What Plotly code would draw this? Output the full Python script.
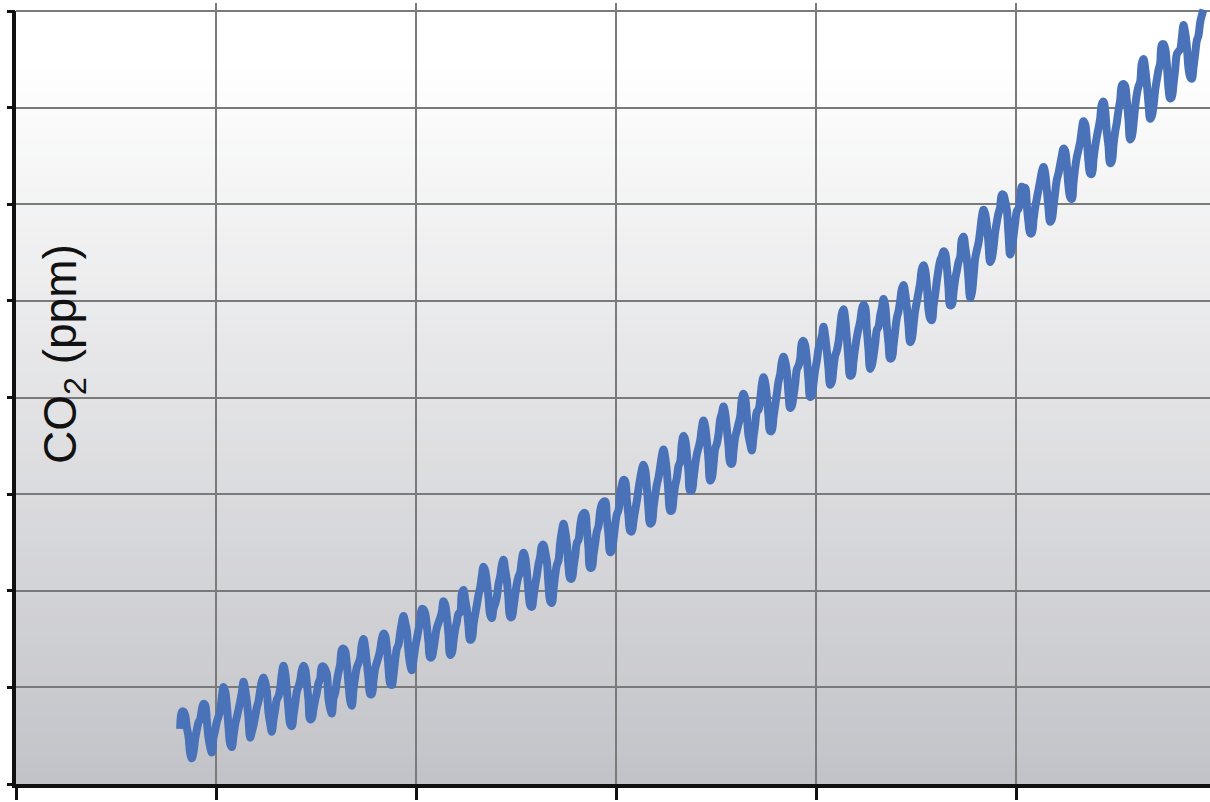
import plotly.graph_objects as go

# Monthly mean CO2 at Mauna Loa (ppm), March 1958 .. May 2009
start_year = 1958
start_month = 3
co2_ppm = [
    315.71, 317.45, 317.50, 317.10, 315.86, 314.93, 313.20, 312.66, 313.33, 314.67,
    315.62, 316.38, 316.71, 317.72, 318.29, 318.15, 316.54, 314.80, 313.84, 313.26, 314.80, 315.58,
    316.43, 316.97, 317.58, 319.02, 320.03, 319.59, 318.18, 315.91, 314.16, 313.83, 315.00, 316.19,
    316.93, 317.70, 318.54, 319.48, 320.58, 319.77, 318.57, 316.79, 314.80, 315.38, 316.10, 317.01,
    317.94, 318.56, 319.68, 320.63, 321.01, 320.55, 319.58, 317.40, 316.26, 315.42, 316.69, 317.69,
    318.74, 319.08, 319.86, 321.39, 322.25, 321.47, 319.74, 317.77, 316.21, 315.99, 317.12, 318.31,
    319.57, 320.07, 320.73, 321.77, 322.25, 321.89, 320.44, 318.70, 316.70, 316.79, 317.79, 318.71,
    319.44, 320.44, 320.89, 322.13, 322.16, 321.87, 321.39, 318.81, 317.81, 317.30, 318.87, 319.42,
    320.62, 321.59, 322.39, 323.87, 324.01, 323.75, 322.39, 320.37, 318.64, 318.10, 319.79, 321.08,
    322.07, 322.50, 323.04, 324.42, 325.00, 324.09, 322.55, 320.92, 319.31, 319.31, 320.72, 321.96,
    322.57, 323.15, 323.89, 325.02, 325.57, 325.36, 324.14, 322.03, 320.41, 320.25, 321.31, 322.84,
    324.00, 324.42, 325.64, 326.66, 327.38, 326.70, 325.89, 323.67, 322.38, 321.78, 322.85, 324.11,
    325.03, 325.99, 326.87, 328.13, 328.07, 327.66, 326.35, 324.69, 323.10, 323.16, 323.98, 325.13,
    326.17, 326.68, 327.18, 327.78, 328.92, 328.57, 327.34, 325.46, 323.36, 323.57, 324.80, 326.01,
    326.77, 327.63, 327.75, 329.72, 330.07, 329.09, 328.05, 326.32, 324.93, 325.06, 326.50, 327.55,
    328.54, 329.56, 330.30, 331.50, 332.48, 332.07, 330.87, 329.31, 327.51, 327.18, 328.16, 328.64,
    329.35, 330.71, 331.48, 332.65, 333.20, 332.16, 331.07, 329.12, 327.32, 327.28, 328.30, 329.58,
    330.73, 331.46, 331.90, 333.17, 333.94, 333.45, 331.98, 329.95, 328.50, 328.34, 329.37, 330.58,
    331.59, 332.75, 333.52, 334.64, 334.77, 334.00, 333.06, 330.68, 328.95, 328.75, 330.15, 331.62,
    332.66, 333.13, 334.95, 336.13, 336.93, 336.17, 334.88, 332.56, 331.29, 331.27, 332.41, 333.60,
    334.95, 335.25, 336.66, 337.69, 338.03, 338.01, 336.41, 334.41, 332.37, 332.41, 333.75, 334.90,
    336.14, 336.69, 338.27, 338.96, 339.21, 339.26, 337.54, 335.75, 333.98, 334.19, 335.31, 336.81,
    337.90, 338.34, 340.01, 340.93, 341.48, 341.33, 339.40, 337.70, 336.19, 336.15, 337.27, 338.32,
    339.29, 340.55, 341.61, 342.53, 343.03, 342.54, 340.78, 338.44, 336.95, 337.08, 338.58, 339.88,
    340.96, 341.73, 342.81, 343.97, 344.63, 343.79, 342.32, 340.09, 338.28, 338.29, 339.60, 340.90,
    341.68, 342.90, 343.33, 345.25, 346.03, 345.63, 344.19, 342.27, 340.35, 340.38, 341.59, 343.05,
    344.10, 344.79, 345.52, 346.84, 347.63, 346.97, 345.53, 343.55, 341.40, 341.67, 343.10, 344.70,
    345.21, 346.16, 347.74, 348.34, 349.06, 348.38, 346.72, 345.02, 343.27, 343.13, 344.49, 345.88,
    346.56, 347.28, 348.01, 349.77, 350.38, 349.93, 348.16, 346.08, 345.22, 344.51, 345.93, 347.21,
    348.52, 348.73, 349.73, 351.31, 352.09, 351.53, 350.11, 348.08, 346.52, 346.59, 347.96, 349.16,
    350.39, 351.64, 352.40, 353.69, 354.21, 353.72, 352.69, 350.40, 348.92, 349.13, 350.20, 351.41,
    352.91, 353.27, 353.96, 355.64, 355.86, 355.37, 353.99, 351.81, 350.05, 350.25, 351.49, 352.85,
    353.80, 355.04, 355.73, 356.32, 357.32, 356.34, 354.84, 353.01, 351.31, 351.62, 353.07, 354.33,
    354.84, 355.73, 357.23, 358.66, 359.13, 358.13, 356.19, 353.85, 352.25, 352.35, 353.81, 355.12,
    356.25, 357.11, 357.86, 359.09, 359.59, 359.33, 357.01, 354.94, 352.96, 353.32, 354.32, 355.57,
    357.00, 357.31, 358.47, 359.27, 360.19, 359.52, 357.33, 355.64, 354.03, 354.12, 355.41, 356.91,
    358.24, 358.92, 359.99, 361.23, 361.65, 360.81, 359.38, 357.46, 355.73, 356.08, 357.53, 358.98,
    359.92, 360.86, 361.83, 363.30, 363.69, 363.19, 361.64, 359.12, 358.17, 357.99, 359.45, 360.68,
    362.07, 363.24, 364.17, 364.57, 365.13, 364.92, 363.55, 361.38, 359.54, 359.58, 360.89, 362.24,
    363.09, 364.03, 364.51, 366.35, 366.64, 365.59, 364.31, 362.25, 360.29, 360.82, 362.49, 364.38,
    365.26, 365.98, 367.24, 368.66, 369.42, 368.99, 367.82, 365.95, 364.02, 364.40, 365.52, 367.13,
    368.18, 369.07, 369.68, 370.99, 370.96, 370.30, 369.45, 366.90, 364.81, 365.37, 366.72, 368.10,
    369.29, 369.54, 370.60, 371.82, 371.58, 371.70, 369.86, 368.13, 367.00, 367.03, 368.37, 369.67,
    370.59, 371.51, 372.43, 373.37, 373.85, 373.22, 371.50, 369.61, 368.18, 368.45, 369.76, 371.24,
    372.53, 373.20, 374.12, 375.02, 375.76, 375.52, 374.01, 371.85, 370.75, 370.55, 372.25, 373.79,
    374.88, 375.64, 376.45, 377.73, 378.60, 378.28, 376.70, 374.38, 373.17, 373.15, 374.66, 375.99,
    377.00, 377.87, 378.88, 380.35, 380.62, 379.69, 377.47, 376.01, 374.25, 374.46, 376.16, 377.51,
    378.46, 379.73, 380.77, 382.29, 382.45, 382.21, 380.74, 378.74, 376.70, 377.00, 378.35, 380.11,
    381.38, 382.19, 382.67, 384.61, 385.03, 384.05, 382.46, 380.41, 378.85, 379.13, 380.15, 381.82,
    382.89, 383.90, 384.58, 386.50, 386.56, 386.10, 384.50, 381.99, 380.96, 381.12, 382.45, 383.95,
    385.52, 385.82, 386.03, 387.21, 388.54, 387.76, 386.36, 384.09, 383.18, 382.99, 384.19, 385.56,
    386.94, 387.48, 388.82, 389.55, 390.14,
]

x_ticks = [1950, 1960, 1970, 1980, 1990, 2000]
y_ticks = [310, 320, 330, 340, 350, 360, 370, 380, 390]
y_label = "CO<sub>2</sub> (ppm)"

# decimal-year position of each monthly value
dates = []
for i in range(len(co2_ppm)):
    m = start_month - 1 + i
    dates.append(start_year + m // 12 + ((m % 12) + 0.5) / 12.0)

W, H = 1210, 802
ML, MR, MT, MB = 16, 0, 3, 18
plot_h = H - MT - MB
px_per_ppm = 9.6625
y_top = 310 + plot_h / px_per_ppm
x_right = 1950 + (W - ML - MR) / 20.0

fig = go.Figure()
fig.add_trace(go.Scatter(
    x=dates, y=co2_ppm, mode="lines",
    line=dict(color="#4a72b8", width=8, shape="spline", smoothing=1.0),
    hoverinfo="skip", showlegend=False,
))

# background gradient (white at top to grey at bottom) inside plot area
shapes = []
n = 80
c0 = (255, 255, 255)
c1 = (194, 195, 200)
for k in range(n):
    t = (k + 0.5) / n  # 0 at top, 1 at bottom
    f = max(0.0, (t - 0.08) / 0.92)
    col = tuple(int(round(c0[j] + (c1[j] - c0[j]) * f)) for j in range(3))
    shapes.append(dict(
        type="rect", xref="paper", yref="paper", x0=0, x1=1,
        y0=1 - (k + 1) / n, y1=1 - k / n + 0.002,
        fillcolor="rgb(%d,%d,%d)" % col, line=dict(width=0), layer="below",
    ))

# axis lines
top_frac = (390 - 310) / (y_top - 310)
shapes.append(dict(type="line", xref="paper", yref="paper", xsizemode="pixel", xanchor=0,
                   x0=-2, x1=-2, y0=-4 / plot_h, y1=top_frac,
                   line=dict(color="#111111", width=4), layer="above"))
shapes.append(dict(type="line", xref="paper", yref="paper", ysizemode="pixel", yanchor=0,
                   x0=0, x1=1, y0=-2, y1=-2,
                   line=dict(color="#111111", width=4), layer="above"))

fig.update_layout(
    width=W, height=H,
    margin=dict(l=ML, r=MR, t=MT, b=MB, pad=0),
    paper_bgcolor="white", plot_bgcolor="white",
    shapes=shapes,
    showlegend=False,
    xaxis=dict(range=[1950, x_right], tickmode="array", tickvals=x_ticks,
               showticklabels=False, ticks="outside", ticklen=15, tickwidth=3,
               tickcolor="#111111", showgrid=True, gridcolor="#7a7a7a", gridwidth=1.5,
               zeroline=False, showline=False, fixedrange=True),
    yaxis=dict(range=[310, y_top], tickmode="array", tickvals=y_ticks,
               showticklabels=False, ticks="outside", ticklen=8, tickwidth=3,
               tickcolor="#111111", showgrid=True, gridcolor="#7a7a7a", gridwidth=1.5,
               zeroline=False, showline=False, fixedrange=True),
    annotations=[dict(
        x=1952.35, y=354.5, xref="x", yref="y", text=y_label, textangle=-90,
        showarrow=False, xanchor="center", yanchor="middle",
        font=dict(family="Liberation Sans, Arial, sans-serif", size=46, color="#111111"),
    )],
)

fig.write_html("out.html", config={"displayModeBar": False},
               post_script="document.body.style.margin='0';document.body.style.overflow='hidden';")
